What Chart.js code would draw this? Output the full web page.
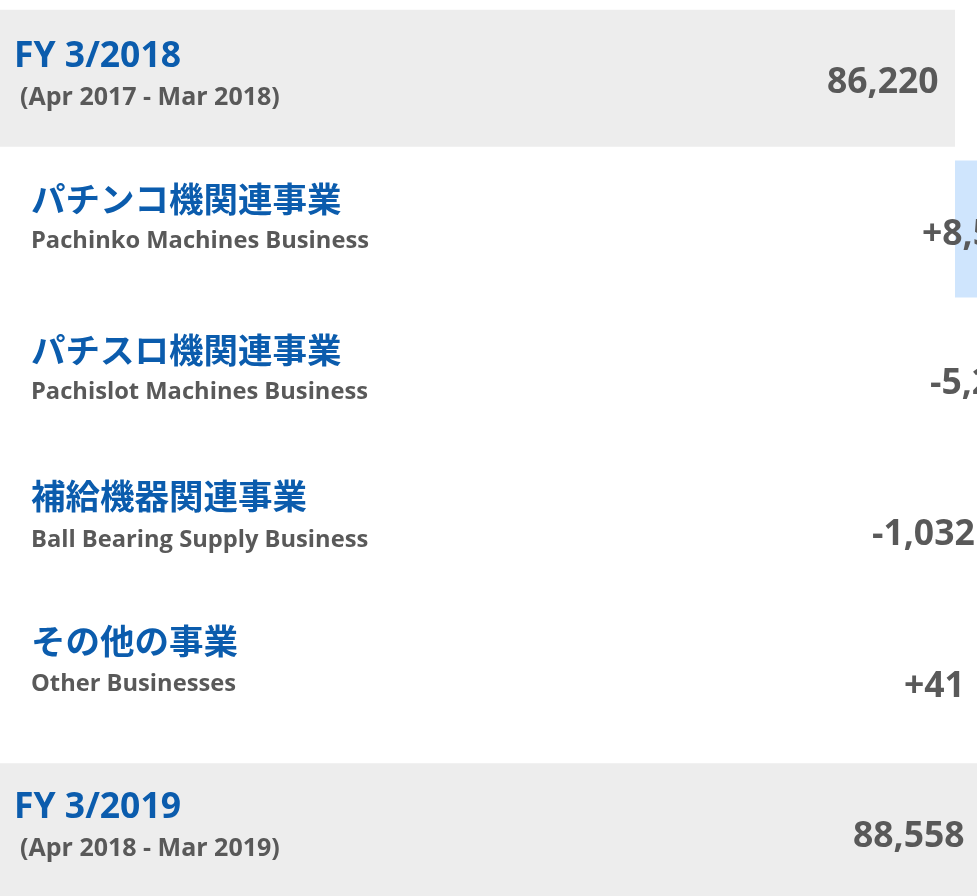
<!DOCTYPE html>
<html>
<head>
<meta charset="utf-8">
<script src="https://cdn.jsdelivr.net/npm/chart.js@4"></script>
<style>
  html, body { margin: 0; padding: 0; background: #ffffff; overflow: hidden; }
  #wrap { width: 977px; height: 907px; }
</style>
</head>
<body>
<div id="wrap"><canvas id="c" width="977" height="907"></canvas></div>
<script>
// ---- data ----
const categories = ['FY 3/2018', 'パチンコ機関連事業', 'パチスロ機関連事業', '補給機器関連事業', 'その他の事業', 'FY 3/2019'];
const titleLabels = ['FY 3/2018', 'パチンコ機関連事業', 'パチスロ機関連事業', '補給機器関連事業', 'その他の事業', 'FY 3/2019'];
const subLabels = ['(Apr 2017 - Mar 2018)', 'Pachinko Machines Business', 'Pachislot Machines Business', 'Ball Bearing Supply Business', 'Other Businesses', '(Apr 2018 - Mar 2019)'];
const startTotal = 86220;
const changes = [8549, -5220, -1032, 41];
const endTotal = 88558;

// ---- build floating ranges ----
const ranges = [[0, startTotal]];
let running = startTotal;
for (const c of changes) { ranges.push([running, running + c]); running += c; }
ranges.push([0, endTotal]);
const rowKinds = ['total', ...changes.map(c => c >= 0 ? 'up' : 'down'), 'total'];
const rowValues = [startTotal, ...changes, endTotal];
const fmt = (v, signed) => (signed && v > 0 ? '+' : (v < 0 ? '-' : '')) + Math.abs(v).toLocaleString('en-US');
const valueLabels = rowValues.map((v, i) => fmt(v, rowKinds[i] !== 'total'));

// ---- layout (styles / positions, not data) ----
const colorFor = { total: '#ededed', up: '#cfe5fd', down: '#fde0d6' };
const valueX = [827, 922, 930, 872, 904, 853];
const valueDy = [5, 6, 4, 5, 6, 5];
const titleX = [14, 31, 31, 31, 31, 14];
const subX = [20, 31, 31, 31, 31, 20];
const titleDy = [-11, -17, -17, -21, -27, -14];
const subDy = [27, 19, 19, 17, 10, 24];

const textPlugin = {
  id: 'rowText',
  afterDatasetsDraw(chart) {
    const ctx = chart.ctx;
    const ys = chart.scales.y;
    ctx.save();
    ctx.textBaseline = 'alphabetic';
    categories.forEach((cat, i) => {
      const yc = ys.getPixelForValue(i);
      const isTotal = rowKinds[i] === 'total';
      // title
      ctx.fillStyle = '#0b5cad';
      ctx.textAlign = 'left';
      ctx.font = isTotal ? 'bold 35.5px "Open Sans"' : 'bold 34.5px "Noto Sans CJK JP"';
      ctx.fillText(titleLabels[i], titleX[i], yc + titleDy[i]);
      // subtitle
      ctx.fillStyle = '#595959';
      ctx.font = isTotal ? 'bold 25px "Open Sans"' : 'bold 23.7px "Open Sans"';
      ctx.fillText(subLabels[i], subX[i], yc + subDy[i]);
      // value
      ctx.font = 'bold 35.5px "Open Sans"';
      ctx.textBaseline = 'middle';
      ctx.fillText(valueLabels[i], valueX[i], yc + valueDy[i]);
      ctx.textBaseline = 'alphabetic';
    });
    ctx.restore();
  }
};

new Chart(document.getElementById('c'), {
  type: 'bar',
  data: {
    labels: categories,
    datasets: [{
      data: ranges,
      backgroundColor: rowKinds.map(k => colorFor[k]),
      borderWidth: 0,
      barPercentage: 1,
      categoryPercentage: 137 / 150.67
    }]
  },
  options: {
    indexAxis: 'y',
    responsive: false,
    animation: false,
    layout: { padding: { top: 3, bottom: 0, left: 0, right: 0 } },
    plugins: { legend: { display: false }, tooltip: { enabled: false } },
    scales: {
      x: { display: false, min: 0, max: 86220 * 977 / 955, grid: { display: false } },
      y: { display: false, grid: { display: false } }
    }
  },
  plugins: [textPlugin]
});
</script>
</body>
</html>
